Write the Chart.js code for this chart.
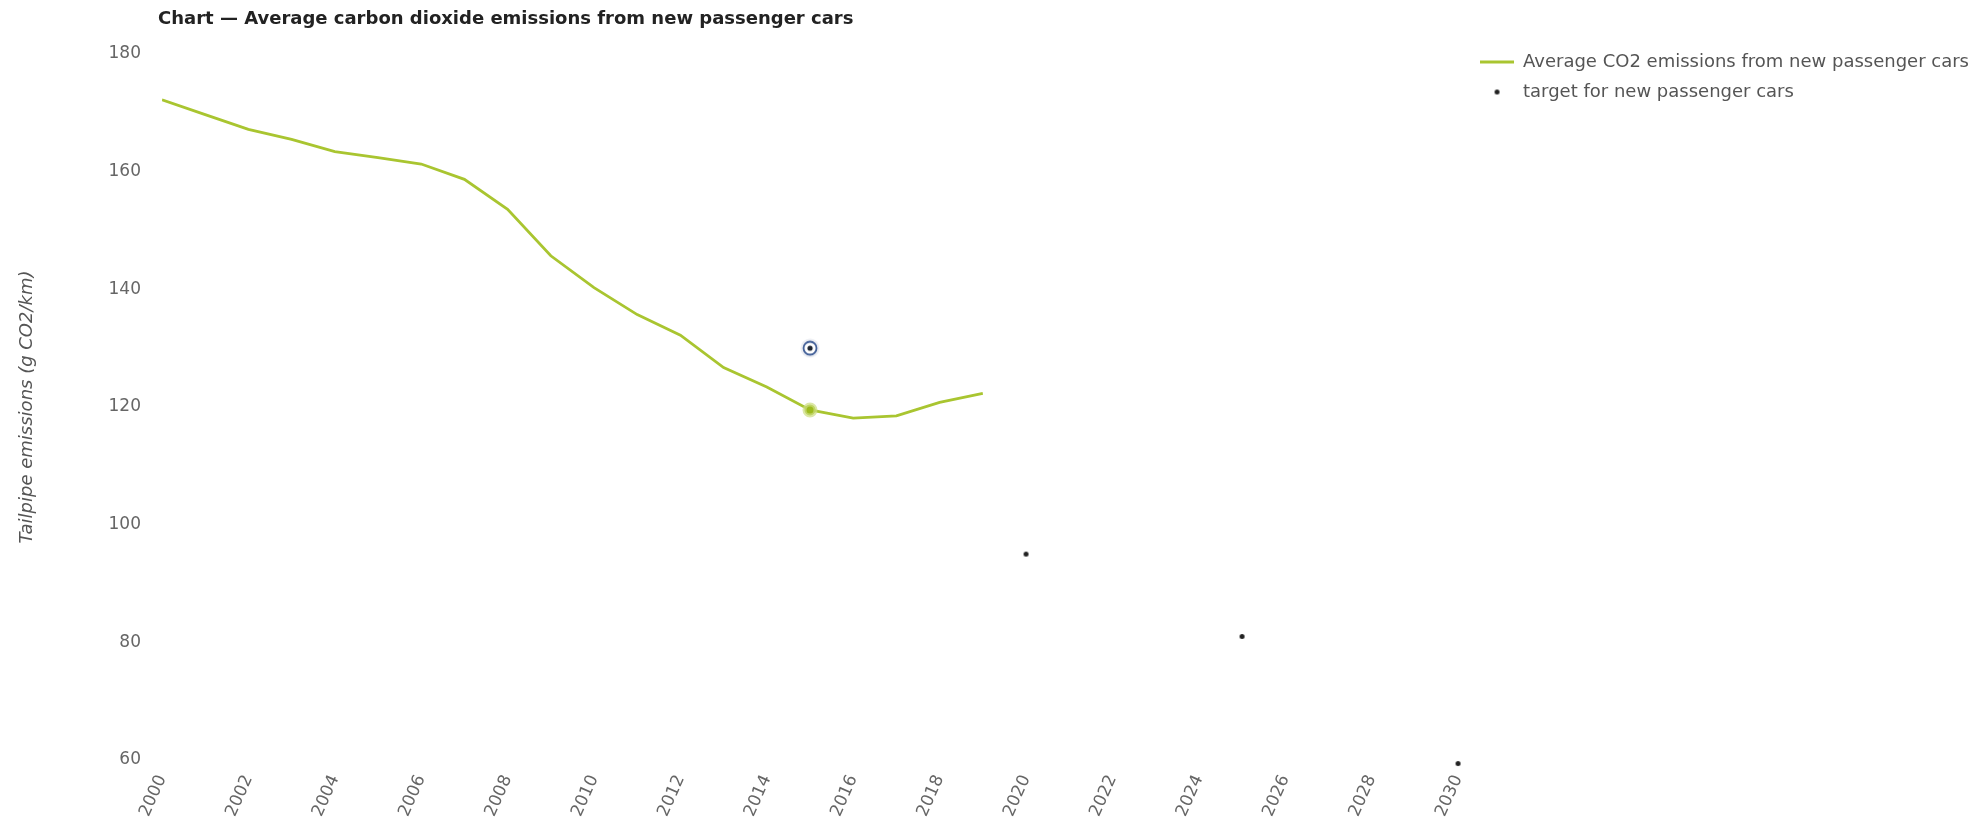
<!DOCTYPE html>
<html lang="en">
<head>
    <meta charset="UTF-8">
    <title>Average carbon dioxide emissions from new passenger cars</title>
    <script src="https://cdn.jsdelivr.net/npm/chart.js"></script>
    <style>
        html, body { margin: 0; padding: 0; background: #fff; }
        .wrap { position: relative; width: 1987px; height: 828px; }
        .chart-title {
            position: absolute; left: 158px; top: 7px;
            font-family: "DejaVu Sans", Verdana, sans-serif;
            font-weight: bold; font-size: 18px; color: #222;
        }
    </style>
</head>
<body>
    <div class="wrap">
        <div class="chart-title">Chart — Average carbon dioxide emissions from new passenger cars</div>
        <canvas id="co2Chart" width="1987" height="828"></canvas>
    </div>

    <script>
        // average emissions, g CO2/km
        const years = [2000, 2001, 2002, 2003, 2004, 2005, 2006, 2007, 2008, 2009,
                       2010, 2011, 2012, 2013, 2014, 2015, 2016, 2017, 2018, 2019];
        const avgEmissions = [172.2, 169.7, 167.2, 165.5, 163.4, 162.4, 161.3, 158.7, 153.6, 145.7,
                              140.3, 135.7, 132.2, 126.7, 123.4, 119.5, 118.1, 118.5, 120.8, 122.3];

        // targets
        const targetYears = [2015, 2020, 2025, 2030];
        const targetValues = [130, 95, 81, 59.4];

        const highlightYear = 2015;
        const lineColor = '#a9c530';

        function makeDot(r, color) {
            const c = document.createElement('canvas');
            c.width = c.height = r * 2 + 2;
            const g = c.getContext('2d');
            g.fillStyle = color;
            g.beginPath();
            g.arc(c.width / 2, c.height / 2, r, 0, Math.PI * 2);
            g.fill();
            return c;
        }

        function makeRing() {
            const c = document.createElement('canvas');
            c.width = c.height = 20;
            const g = c.getContext('2d');
            g.fillStyle = 'rgba(200,205,220,0.35)';
            g.beginPath(); g.arc(10, 10, 9.5, 0, Math.PI * 2); g.fill();
            g.fillStyle = '#fff';
            g.strokeStyle = '#3e5c96';
            g.lineWidth = 1.8;
            g.beginPath(); g.arc(10, 10, 6.5, 0, Math.PI * 2); g.fill(); g.stroke();
            g.fillStyle = '#1d2430';
            g.beginPath(); g.arc(10, 10, 2.6, 0, Math.PI * 2); g.fill();
            return c;
        }

        const dotImg = makeDot(2.5, '#222');
        const ringImg = makeRing();

        const lineData = years.map((y, i) => ({ x: y, y: avgEmissions[i] }));
        const targetData = targetYears.map((y, i) => ({ x: y, y: targetValues[i] }));

        // legend sits a bit higher than the plot top and a little away from it
        const legendShift = {
            id: 'legendShift',
            afterLayout(chart) {
                const lg = chart.legend;
                if (!lg) return;
                const w = lg.right - lg.left;
                lg.left = chart.chartArea.right + 10;
                lg.right = lg.left + w;
                lg.top -= 13;
                lg.bottom -= 13;
            }
        };

        const ctx = document.getElementById('co2Chart').getContext('2d');
        new Chart(ctx, {
            type: 'line',
            data: {
                datasets: [
                    {
                        label: 'Average CO2 emissions from new passenger cars',
                        data: lineData,
                        borderColor: lineColor,
                        backgroundColor: '#9dbb1e',
                        borderWidth: 2.8,
                        tension: 0,
                        pointRadius: c => (c.raw && c.raw.x === highlightYear) ? 5.5 : 0,
                        pointBorderWidth: 4,
                        pointBorderColor: 'rgba(205,222,130,0.7)',
                        pointBackgroundColor: '#9dbb1e',
                        fill: false
                    },
                    {
                        label: 'target for new passenger cars',
                        data: targetData,
                        showLine: false,
                        clip: false,
                        borderColor: '#222',
                        backgroundColor: '#222',
                        pointStyle: c => (c.raw && c.raw.x === highlightYear) ? ringImg : dotImg,
                        pointRadius: 3
                    }
                ]
            },
            options: {
                responsive: false,
                animation: false,
                layout: { padding: { top: 54, left: 17, right: 18, bottom: 0 } },
                scales: {
                    x: {
                        type: 'linear',
                        min: 2000,
                        max: 2030,
                        grid: { display: false },
                        border: { display: false },
                        ticks: {
                            stepSize: 2,
                            minRotation: 66,
                            maxRotation: 66,
                            padding: 4,
                            color: '#666',
                            font: { family: 'DejaVu Sans', size: 17 },
                            callback: v => String(v)
                        },
                        afterFit: s => { s.height = 68; }
                    },
                    y: {
                        min: 60,
                        max: 180,
                        grid: { display: false },
                        border: { display: false },
                        ticks: {
                            stepSize: 20,
                            padding: 13,
                            color: '#666',
                            font: { family: 'DejaVu Sans', size: 17 }
                        },
                        title: {
                            display: true,
                            text: 'Tailpipe emissions (g CO2/km)',
                            color: '#555',
                            padding: 0,
                            font: { family: 'DejaVu Sans', size: 18, style: 'italic' }
                        },
                        afterFit: s => { s.width = 145; }
                    }
                },
                plugins: {
                    legend: {
                        position: 'right',
                        align: 'start',
                        maxWidth: 700,
                        labels: {
                            usePointStyle: true,
                            pointStyleWidth: 34,
                            boxHeight: 10,
                            padding: 12,
                            color: '#555',
                            font: { family: 'DejaVu Sans', size: 18 },
                            generateLabels: chart => {
                                const items = Chart.defaults.plugins.legend.labels.generateLabels(chart);
                                items[0].pointStyle = 'line';
                                items[0].lineWidth = 2.8;
                                items[0].strokeStyle = lineColor;
                                items[1].pointStyle = dotImg;
                                return items;
                            }
                        }
                    },
                    tooltip: { enabled: false }
                }
            },
            plugins: [legendShift]
        });
    </script>
</body>
</html>
